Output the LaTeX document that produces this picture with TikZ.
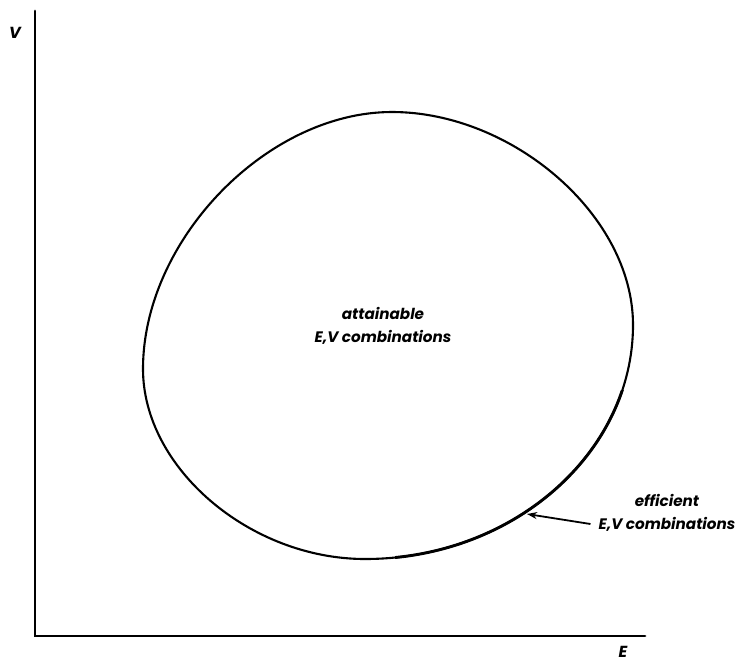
\documentclass[tikz,border=0pt]{standalone}
\usepackage{fontspec}
\setmainfont{Poppins}
\usetikzlibrary{arrows.meta}
\tikzset{
  axis/.style={line width=2.8pt, line cap=round},
  rim/.style={line width=2.1pt},
  rimbold/.style={line width=2.9pt},
  lbl/.style={font=\bfseries\itshape\fontsize{15.2}{23}\selectfont, inner sep=0pt, align=center},
  axlbl/.style={font=\bfseries\itshape\fontsize{16}{18}\selectfont, inner sep=0pt},
  pointer/.style={line width=1.8pt, -{Stealth[length=10pt,width=7pt]}}
}
\def\rimpath{(392,112) .. controls (512,112) and (633,215) .. (633,325)
  .. controls (633,453) and (513,559) .. (365,559)
  .. controls (250,559) and (143,468) .. (143,369)
  .. controls (143,240) and (267,112) .. (392,112) -- cycle}
\begin{document}
\begin{tikzpicture}[x=1pt,y=-1pt]
\useasboundingbox (0,0) rectangle (743,664);
% axes
\coordinate (top) at (35,11);
\coordinate (origin) at (35,636);
\coordinate (right) at (645,636);
\draw[axis] (top) -- (origin) -- (right);
\node[axlbl] (V) at (15,33) {V};
\node[axlbl] (E) at (623,652) {E};
% attainable region
\draw[rim] \rimpath;
\begin{scope}
\clip (395,390) rectangle (743,664);
\draw[rimbold] \rimpath;
\end{scope}
\node[lbl] (att) at (383,326) {attainable\\E,V combinations};
% efficient label
\node[lbl] (effA) at (667,500) {efficient};
\node[lbl] (effB) at (667,524) {E,V combinations};
\coordinate (tip) at (527,514);
\draw[pointer] ([xshift=-8pt]effB.west) -- (tip);
\end{tikzpicture}
\end{document}
